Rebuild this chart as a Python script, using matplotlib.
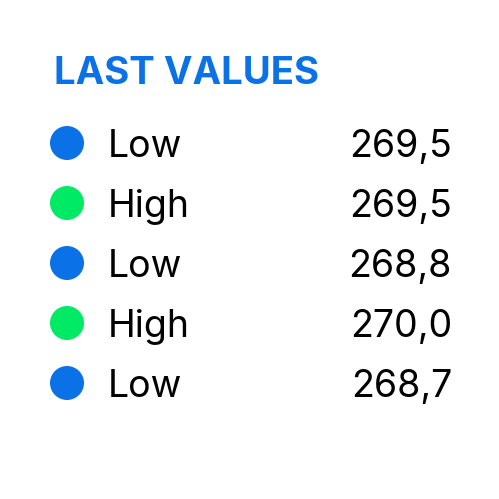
import matplotlib
matplotlib.use("Agg")
import matplotlib.pyplot as plt

title = "LAST VALUES"
labels = ["Low", "High", "Low", "High", "Low"]
values = [269.5, 269.5, 268.8, 270.0, 268.7]
series_colors = {"Low": "#0a72e6", "High": "#00ea66"}

W = H = 499
fig = plt.figure(figsize=(W / 100, H / 100), dpi=100)
ax = fig.add_axes([0, 0, 1, 1])
ax.set_xlim(0, W); ax.set_ylim(H, 0); ax.axis("off")

ax.text(54, 84, title, fontsize=27.6, fontweight="bold", color="#0a72e6",
        family="Inter", va="baseline", ha="left")

y0, step = 143, 60
for i, (lab, val) in enumerate(zip(labels, values)):
    y = y0 + i * step
    ax.scatter([67], [y], s=600, color=series_colors[lab], edgecolors="none")
    ax.text(108, y, lab, fontsize=27, color="black", family="Inter", va="center_baseline", ha="left")
    ax.text(452, y, f"{val:.1f}".replace(".", ","), fontsize=27, color="black",
            family="Inter", va="center_baseline", ha="right")

fig.savefig("out.png", dpi=100)
